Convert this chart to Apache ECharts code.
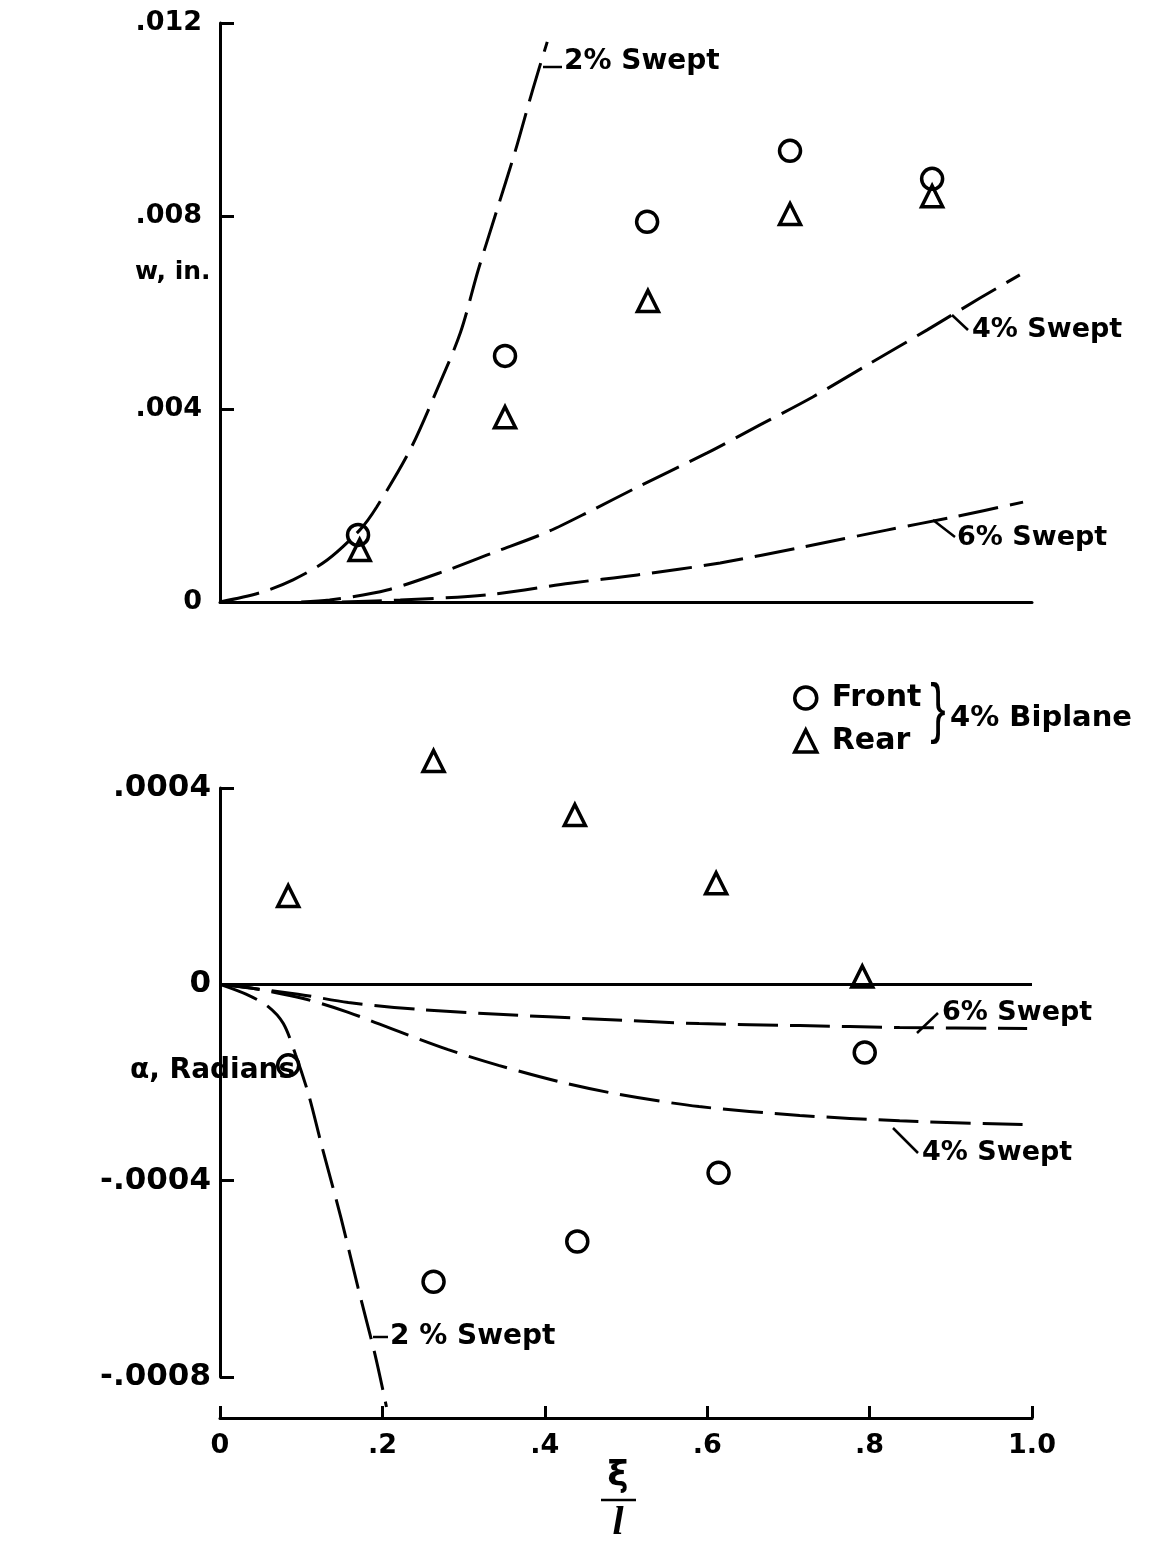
<!DOCTYPE html>
<html><head><meta charset="utf-8">
<script src="https://cdn.jsdelivr.net/npm/echarts@6/dist/echarts.min.js"></script>
<style>html,body{margin:0;padding:0;background:#fff}#c{width:1150px;height:1541px}</style>
</head><body><div id="c"></div>
<script>
// ---- data ----
const xTicks = [0, 0.2, 0.4, 0.6, 0.8, 1.0];
const wTicks = [0, 0.004, 0.008, 0.012];
const aTicks = [-0.0008, -0.0004, 0, 0.0004];

// top panel: w, in.  (4% Biplane)
const wFrontX = [0.170, 0.351, 0.526, 0.702, 0.877];
const wFront  = [0.00139, 0.00510, 0.00788, 0.00935, 0.00877];
const wRearX  = [0.172, 0.351, 0.527, 0.702, 0.877];
const wRear   = [0.00108, 0.00383, 0.00624, 0.00804, 0.00841];

// top panel swept-wing curves
const w2X = [0, 0.049, 0.090, 0.132, 0.172, 0.193, 0.234, 0.267, 0.296, 0.318, 0.341, 0.363, 0.385, 0.403];
const w2  = [0, 0.00019, 0.00046, 0.00087, 0.00149, 0.00197, 0.00315, 0.00439, 0.00558, 0.00688, 0.00812, 0.00931, 0.01061, 0.01161];
const w4X = [0.10, 0.135, 0.206, 0.280, 0.336, 0.403, 0.459, 0.514, 0.600, 0.665, 0.730, 0.797, 0.871, 0.936, 0.985];
const w4  = [0, 0.00004, 0.00025, 0.00066, 0.00102, 0.00145, 0.00191, 0.00238, 0.00309, 0.00367, 0.00425, 0.00491, 0.00564, 0.00630, 0.00678];
const w6X = [0.15, 0.222, 0.329, 0.431, 0.514, 0.616, 0.718, 0.821, 0.903, 0.989];
const w6  = [0, 0.00004, 0.00015, 0.00039, 0.00056, 0.00081, 0.00114, 0.00149, 0.00176, 0.00207];

// bottom panel: alpha, radians (4% Biplane)
const aFrontX = [0.084, 0.263, 0.440, 0.614, 0.794];
const aFront  = [-0.000165, -0.000606, -0.000524, -0.000384, -0.000139];
const aRearX  = [0.084, 0.263, 0.437, 0.611, 0.791];
const aRear   = [0.000180, 0.000455, 0.000345, 0.000206, 0.000016];

// bottom panel swept-wing curves
const a2X = [0, 0.032, 0.059, 0.078, 0.093, 0.109, 0.125, 0.149, 0.170, 0.191, 0.205];
const a2  = [0, -0.00002, -0.000045, -0.00008, -0.000143, -0.000224, -0.000327, -0.000476, -0.000618, -0.000755, -0.000861];
const a4X = [0, 0.047, 0.105, 0.158, 0.220, 0.281, 0.343, 0.417, 0.491, 0.590, 0.714, 0.837, 0.994];
const a4  = [0, -0.00001, -0.00003, -0.000057, -0.000096, -0.000133, -0.000165, -0.000198, -0.000224, -0.000249, -0.000267, -0.000278, -0.000286];
const a6X = [0, 0.096, 0.158, 0.244, 0.343, 0.467, 0.590, 0.714, 0.837, 0.994];
const a6  = [0, -0.00002, -0.000037, -0.000051, -0.000061, -0.000071, -0.00008, -0.000084, -0.000088, -0.00009];

const pairs = (xs, ys) => xs.map((x, i) => [x, ys[i]]);
const FONT = '"DejaVu Sans", sans-serif';
const fmt = (d) => (v) => {
  if (Math.abs(v) < 1e-12) return '0';
  const s = Math.abs(v).toFixed(d).replace(/^0/, '');
  return (v < 0 ? '-' : '') + s;
};
const xFmt = (v) => (Math.abs(v) < 1e-9 ? '0' : (Math.abs(v - 1) < 1e-9 ? '1.0' : v.toFixed(1).replace(/^0/, '')));

const dashed = { color: '#000', width: 3, type: [40, 12] };
function curve(xs, ys, xi, yi) {
  return {
    type: 'line', xAxisIndex: xi, yAxisIndex: yi, data: pairs(xs, ys),
    showSymbol: false, symbol: 'none', smooth: 0.3, clip: false,
    lineStyle: dashed, silent: true, z: 2
  };
}
function pts(name, sym, xs, ys, xi, yi, size) {
  return {
    type: 'scatter', name: name, xAxisIndex: xi, yAxisIndex: yi, data: pairs(xs, ys),
    symbol: sym, symbolSize: size, clip: false,
    itemStyle: { color: 'transparent', borderColor: '#000', borderWidth: 3.5, opacity: 1 },
    silent: true, z: 3
  };
}

const axisLine = { show: true, onZero: false, lineStyle: { color: '#000', width: 3 } };

function label(txt, x, y, size) {
  return { type: 'text', x: x, y: y, style: { text: txt, font: 'bold ' + size + 'px ' + FONT, fill: '#000', align: 'left', verticalAlign: 'middle', textAlign: 'left', textVerticalAlign: 'middle' } };
}
function seg(x1, y1, x2, y2) {
  return { type: 'line', shape: { x1: x1, y1: y1, x2: x2, y2: y2 }, style: { stroke: '#000', lineWidth: 2.5 } };
}

const chart = echarts.init(document.getElementById('c'), null, { renderer: 'canvas' });
chart.setOption({
  backgroundColor: '#fff',
  animation: false,
  grid: [
    { left: 220, right: 118, top: 23, height: 579 },
    { left: 220, right: 118, top: 788, height: 589 }
  ],
  xAxis: [
    { gridIndex: 0, type: 'value', min: 0, max: 1, interval: 0.2,
      axisLine: axisLine, axisTick: { show: false }, axisLabel: { show: false }, splitLine: { show: false } },
    { gridIndex: 1, type: 'value', min: 0, max: 1, interval: 0.2, offset: 41, position: 'bottom',
      axisLine: axisLine,
      axisTick: { show: true, inside: true, length: 12, lineStyle: { color: '#000', width: 3 } },
      axisLabel: { formatter: xFmt, margin: 14, color: '#000', fontSize: 27, fontWeight: 'bold', fontFamily: FONT },
      splitLine: { show: false } }
  ],
  yAxis: [
    { gridIndex: 0, type: 'value', min: 0, max: 0.012, interval: 0.004,
      axisLine: axisLine,
      axisTick: { show: true, inside: true, length: 14, lineStyle: { color: '#000', width: 3 } },
      axisLabel: { formatter: fmt(3), margin: 18, color: '#000', fontSize: 27, fontWeight: 'bold', fontFamily: FONT },
      splitLine: { show: false } },
    { gridIndex: 1, type: 'value', min: -0.0008, max: 0.0004, interval: 0.0004,
      axisLine: axisLine,
      axisTick: { show: true, inside: true, length: 14, lineStyle: { color: '#000', width: 3 } },
      axisLabel: { formatter: fmt(4), margin: 9, color: '#000', fontSize: 31, fontWeight: 'bold', fontFamily: FONT },
      splitLine: { show: false } }
  ],
  legend: {
    orient: 'vertical', left: 788, top: 678, itemWidth: 22, itemHeight: 22, itemGap: 13,
    selectedMode: false, data: ['Front', 'Rear'],
    itemStyle: { color: 'transparent', borderColor: '#000', borderWidth: 3.5, opacity: 1 },
    textStyle: { fontSize: 30, fontWeight: 'bold', fontFamily: FONT, color: '#000', lineHeight: 30, padding: [0, 0, 0, 10] }
  },
  series: [
    curve(w2X, w2, 0, 0), curve(w4X, w4, 0, 0), curve(w6X, w6, 0, 0),
    pts('Front', 'circle', wFrontX, wFront, 0, 0, 21),
    pts('Rear', 'triangle', wRearX, wRear, 0, 0, [21, 21]),
    curve(a2X, a2, 1, 1), curve(a4X, a4, 1, 1), curve(a6X, a6, 1, 1),
    Object.assign(pts('Front', 'circle', aFrontX, aFront, 1, 1, 21), {
      markLine: { silent: true, symbol: 'none', label: { show: false },
        lineStyle: { color: '#000', width: 3, type: 'solid' }, data: [{ yAxis: 0 }] }
    }),
    pts('Rear', 'triangle', aRearX, aRear, 1, 1, [21, 21])
  ],
  graphic: [
    label('w, in.', 135, 272, 25),
    label('α, Radians', 130, 1071, 28),
    seg(543, 67, 562, 67), label('2% Swept', 564, 62, 28),
    seg(952, 315, 968, 330), label('4% Swept', 972, 330, 27),
    seg(933, 520, 955, 537), label('6% Swept', 957, 538, 27),
    seg(917, 1033, 938, 1013), label('6% Swept', 942, 1013, 27),
    seg(893, 1128, 918, 1153), label('4% Swept', 922, 1153, 27),
    seg(373, 1337, 388, 1337), label('2 % Swept', 390, 1337, 28),
    { type: 'text', x: 938, y: 712, scaleX: 0.7, style: { text: '}', font: '66px "Liberation Sans", sans-serif', fill: '#000', align: 'center', verticalAlign: 'middle', textAlign: 'center', textVerticalAlign: 'middle' } },
    label('4% Biplane', 950, 718, 29),
    { type: 'text', x: 618, y: 1477, style: { text: 'ξ', font: 'bold 36px ' + FONT, fill: '#000', align: 'center', verticalAlign: 'middle', textAlign: 'center', textVerticalAlign: 'middle' } },
    seg(601, 1500, 636, 1500),
    { type: 'text', x: 618, y: 1524, style: { text: 'l', font: 'italic bold 40px "Liberation Serif", serif', fill: '#000', align: 'center', verticalAlign: 'middle', textAlign: 'center', textVerticalAlign: 'middle' } }
  ]
});
</script>
</body></html>
